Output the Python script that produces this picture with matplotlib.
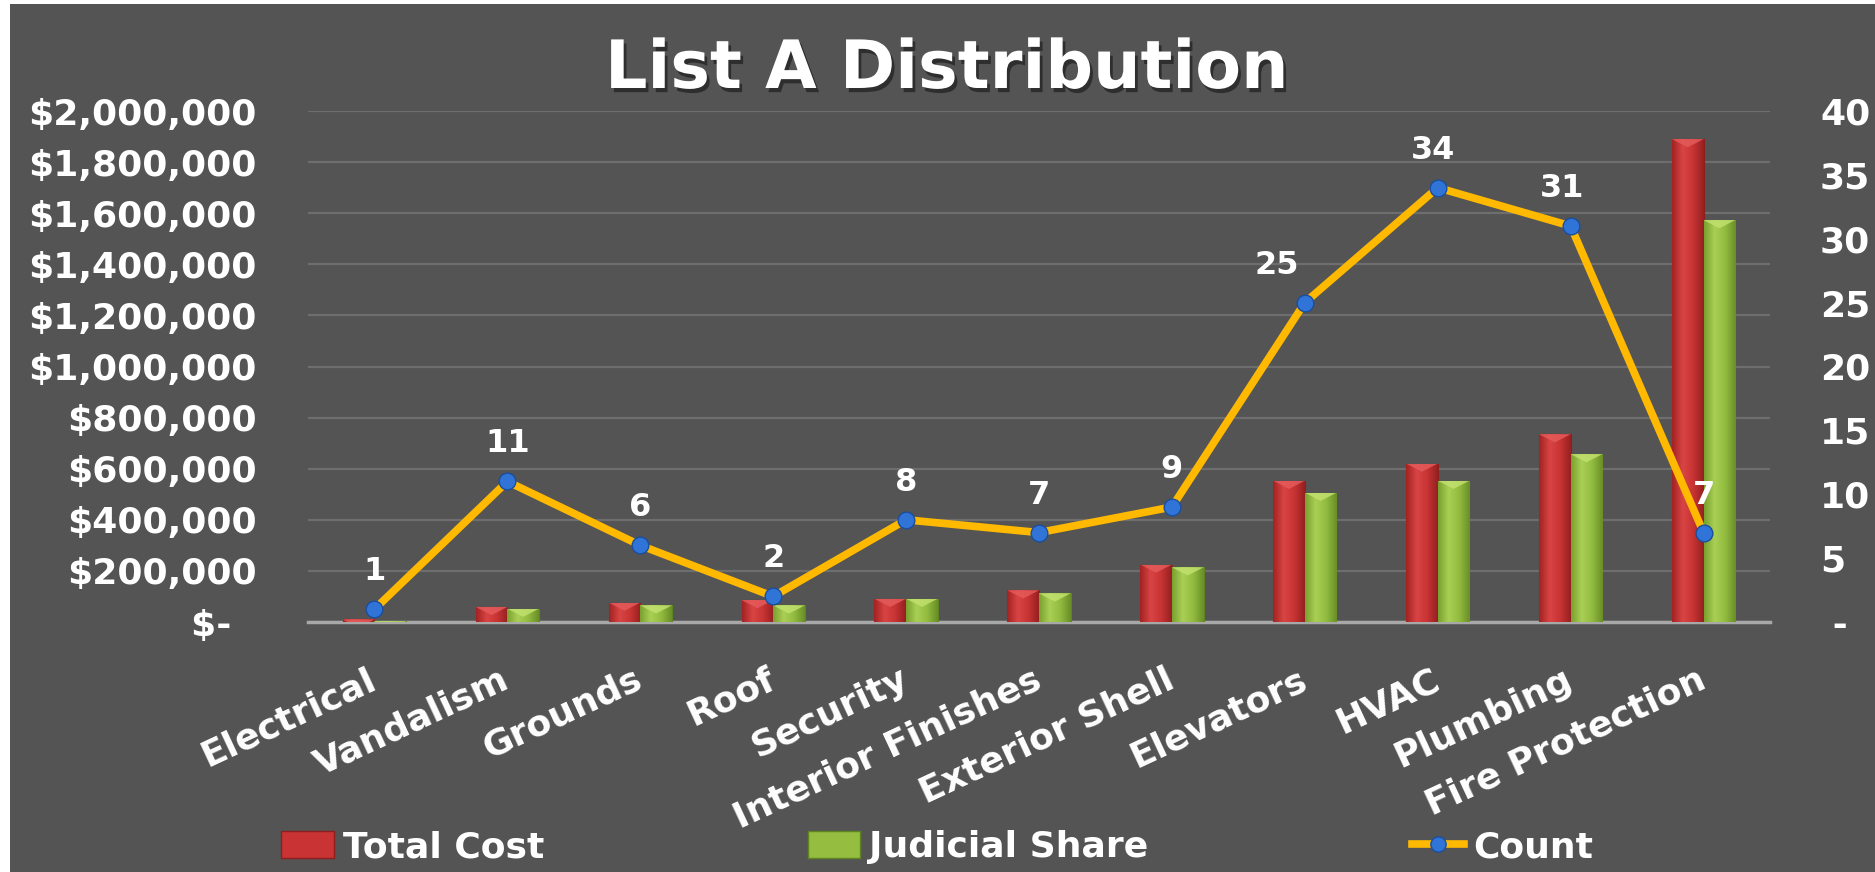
import matplotlib
matplotlib.use("Agg")
import matplotlib.pyplot as plt
import matplotlib.patheffects as pe
from matplotlib.colors import LinearSegmentedColormap
from matplotlib.patches import Patch, Rectangle, Polygon
from matplotlib.lines import Line2D
from matplotlib.ticker import FuncFormatter, MultipleLocator
import numpy as np

categories = ['Electrical', 'Vandalism', 'Grounds', 'Roof', 'Security', 'Interior Finishes',
              'Exterior Shell', 'Elevators', 'HVAC', 'Plumbing', 'Fire Protection']
total_cost = [10000, 59000, 76000, 86000, 91000, 124000, 225000, 553000, 620000, 735000, 1890000]
judicial_share = [3000, 52000, 65000, 65000, 91000, 112000, 214000, 506000, 553000, 657000, 1573000]
count = [1, 11, 6, 2, 8, 7, 9, 25, 34, 31, 7]

BG = '#545454'
RED = '#C93333'
GREEN = '#95BE41'
GOLD = '#FFB900'
BLUE = '#2F74D6'

fig = plt.figure(figsize=(18.75, 8.72), dpi=100, facecolor=BG)
# thin white strip on the left and top edges of the screenshot
fig.patches.append(Rectangle((0, 0), 10 / 1875, 1, transform=fig.transFigure,
                             facecolor='white', edgecolor='none'))
fig.patches.append(Rectangle((0, 1 - 4 / 872), 1, 4 / 872, transform=fig.transFigure,
                             facecolor='white', edgecolor='none'))

ax = fig.add_axes([308 / 1875, 250 / 872, 1462 / 1875, 511 / 872])
ax.set_facecolor('none')
ax2 = ax.twinx()

x = np.arange(len(categories))
w = 0.238
bars_r = ax.bar(x - w / 2, total_cost, w, color=RED, edgecolor='#8E1E1E', linewidth=0.8, zorder=3)
bars_g = ax.bar(x + w / 2, judicial_share, w, color=GREEN, edgecolor='#5F8422', linewidth=0.8, zorder=3)

# soft cylinder-like shading plus a bevel highlight on the bar tops
red_cmap = LinearSegmentedColormap.from_list('r', ['#A32222', '#D94444', '#C83434', '#962020'])
green_cmap = LinearSegmentedColormap.from_list('g', ['#7AA12F', '#A9CF55', '#92BC40', '#6A8F27'])
grad = np.linspace(0, 1, 64).reshape(1, -1)
bevel = 32000
for bars, cmap, hi in ((bars_r, red_cmap, '#E45A5A'), (bars_g, green_cmap, '#C2E06E')):
    for b in bars:
        x0, y0, bw, bh = b.get_x(), b.get_y(), b.get_width(), b.get_height()
        im = ax.imshow(grad, extent=[x0, x0 + bw, y0, y0 + bh], aspect='auto',
                       cmap=cmap, zorder=3.5, interpolation='bicubic')
        im.set_clip_path(b)
        top = y0 + bh
        tri = Polygon([(x0, top), (x0 + bw, top), (x0 + bw / 2, top - bevel)],
                      closed=True, facecolor=hi, edgecolor='none', alpha=0.85, zorder=3.6)
        ax.add_patch(tri)
        tri.set_clip_path(b)

ax.set_xlim(-0.5, len(categories) - 0.5)
ax.set_ylim(0, 2000000)
ax.yaxis.set_major_locator(MultipleLocator(200000))
ax.yaxis.set_major_formatter(FuncFormatter(lambda v, p: '$-  ' if v == 0 else f'${v:,.0f}'))
ax.grid(axis='y', color='#6E6E6E', linewidth=1.6, zorder=0)
ax.set_axisbelow(True)

ax2.plot(x, count, color=GOLD, linewidth=5.5, marker='o', markersize=12,
         markerfacecolor=BLUE, markeredgecolor='#1A4E9E', markeredgewidth=1, zorder=5,
         solid_joinstyle='round')
ax2.set_ylim(0, 40)
ax2.yaxis.set_major_locator(MultipleLocator(5))
ax2.yaxis.set_major_formatter(FuncFormatter(lambda v, p: ' -' if v == 0 else f'{v:.0f}'))

label_nudge = {7: -28, 8: -5, 9: -9}
for i, c in enumerate(count):
    ax2.annotate(str(c), (x[i], c), xytext=(label_nudge.get(i, 0) * 0.72, 27),
                 textcoords='offset points', ha='center', va='center',
                 color='white', fontsize=23, fontweight='bold', zorder=6)

for a in (ax, ax2):
    for s in ('top', 'left', 'right', 'bottom'):
        a.spines[s].set_visible(False)
    a.tick_params(length=0, colors='white')
ax.spines['bottom'].set_visible(True)
ax.spines['bottom'].set_color('#A8A8A8')
ax.spines['bottom'].set_linewidth(2.5)

ax.tick_params(axis='y', pad=37, labelsize=26)
ax2.tick_params(axis='y', pad=36, labelsize=26)
for lbl in ax.get_yticklabels() + ax2.get_yticklabels():
    lbl.set_fontweight('bold')

ax.set_xticks(x)
ax.set_xticklabels(categories, rotation=25, ha='right', va='center', rotation_mode='anchor',
                   fontsize=26, fontweight='bold', color='white')
ax.tick_params(axis='x', pad=40)

fig.text(0.505, 1 - 69 / 872, 'List A Distribution', ha='center', va='center',
         fontsize=48, fontweight='bold', color='white',
         path_effects=[pe.withSimplePatchShadow(offset=(2, -3), shadow_rgbFace='black', alpha=0.45)])

handles = [Patch(facecolor=RED, edgecolor='#8E1E1E'),
           Patch(facecolor=GREEN, edgecolor='#5F8422'),
           Line2D([], [], color=GOLD, linewidth=5.5, marker='o', markersize=11,
                  markerfacecolor=BLUE, markeredgecolor='#1A4E9E')]
leg = fig.legend(handles, ['Total Cost', 'Judicial Share', 'Count'], loc='center',
                 bbox_to_anchor=(0.5, 1 - 847 / 872), ncol=3, frameon=False,
                 prop={'size': 26, 'weight': 'bold'}, labelcolor='white',
                 handlelength=1.45, handleheight=0.8, handletextpad=0.25, columnspacing=7.3)

fig.savefig('out.png', dpi=100, facecolor=fig.get_facecolor())
